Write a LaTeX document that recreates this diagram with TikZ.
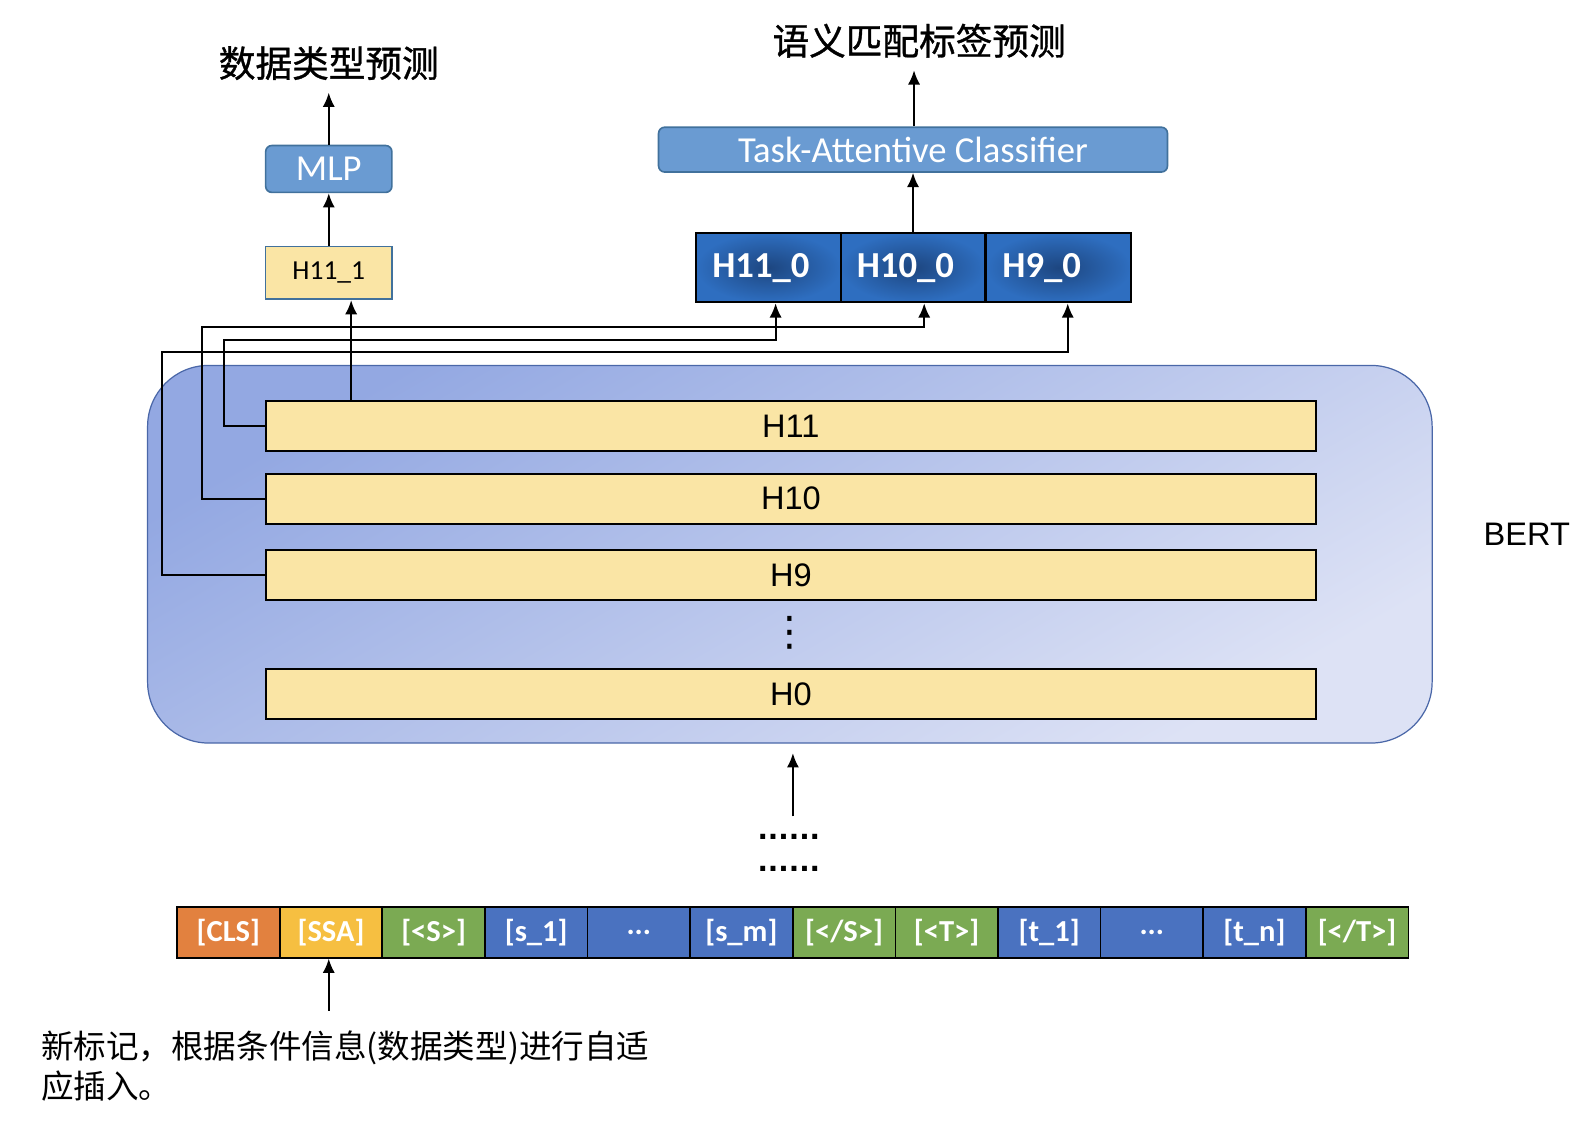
\documentclass[tikz,border=0pt]{standalone}
\usepackage{fontspec}
\setmainfont{Carlito}
\newfontfamily\arialfont{Liberation Sans}
\newfontfamily\cjkfont{Noto Sans CJK SC}
\newfontfamily\cjktitle[FakeBold=1]{Noto Sans CJK SC}
\newfontfamily\symfont{DejaVu Sans}
\usepackage{tikz}
\usetikzlibrary{arrows,arrows.meta}

\definecolor{mlpblue}{HTML}{6A9BD2}
\definecolor{mlpborder}{HTML}{41719C}
\definecolor{layeryellow}{HTML}{FAE5A5}
\definecolor{hdark}{HTML}{1D4680}
\definecolor{hlight}{HTML}{2E6EC0}
\definecolor{berttop}{HTML}{93A8E2}
\definecolor{bertbottom}{HTML}{DDE2F5}
\definecolor{bertborder}{HTML}{4A67A8}
\definecolor{tokorange}{HTML}{E2813F}
\definecolor{tokyellow}{HTML}{F6BF41}
\definecolor{tokgreen}{HTML}{7BAA53}
\definecolor{tokblue}{HTML}{4A72C0}

\newcommand{\tokdots}{...}

\begin{document}
\begin{tikzpicture}[x=0.5pt,y=-0.5pt]
	
	\tikzset{title/.style = {font=\cjktitle\fontsize{18}{20}\selectfont, inner sep=6pt}}
	\tikzset{head/.style = {draw=mlpborder, line width=0.8pt, fill=mlpblue, rounded corners=3pt, text=white, inner sep=0pt, font=\fontsize{18}{20}\selectfont}}
	\tikzset{layer/.style = {draw, line width=1pt, fill=layeryellow, minimum width=516pt, minimum height=24.5pt, inner sep=0pt, font=\arialfont\fontsize{16}{18}\selectfont}}
	\tikzset{hzero/.style = {draw, line width=1pt, inner color=hdark, outer color=hlight, minimum width=71.2pt, minimum height=34pt, inner xsep=8pt, inner ysep=0pt, text width=55.2pt, align=left, text=white, font=\bfseries\fontsize{18}{20}\selectfont}}
	\tikzset{token/.style = {draw, line width=0.8pt, minimum width=50.4pt, minimum height=25pt, inner sep=0pt, text=white, font=\bfseries\fontsize{15}{17}\selectfont}}
	\tikzset{edge/.style = {->,> = {Latex[length=7pt,width=6pt]}, line width=1pt}}
	
	\useasboundingbox (0,0) rectangle (1568,1114);
	
	% BERT block
	\node[draw=bertborder, line width=0.6pt, rounded corners=30pt, top color=berttop, bottom color=bertbottom, shading angle=30, minimum width=631pt, minimum height=185.5pt] (bert) at (776,544.5) {};
	\node[font=\arialfont\fontsize{16}{18}\selectfont] (bertlabel) at (1500,525) {BERT};
	
	\node[layer] (h11) at (777,418.5) {H11};
	\node[layer] (h10) at (777,490) {H10};
	\node[layer] (h9) at (777,565) {H9};
	\node[font=\symfont\fontsize{20}{22}\selectfont, inner sep=0pt] (vdots) at (776,622) {⋮};
	\node[layer] (h0) at (777,682) {H0};
	
	% left head
	\node[draw=mlpborder, line width=0.8pt, fill=layeryellow, minimum width=62pt, minimum height=26pt, inner sep=0pt, font=\fontsize{13.5}{15}\selectfont] (h111) at (323,268) {H11\_1};
	\node[head, minimum width=62pt, minimum height=23pt] (mlp) at (323,166) {MLP};
	\node[title] (dtitle) at (323,62) {数据类型预测};
	
	% right head
	\node[hzero] (h110) at (755,263) {H11\_0};
	\node[hzero] (h100) at (897,263) {H10\_0};
	\node[hzero] (h90) at (1040,263) {H9\_0};
	\node[head, minimum width=250pt, minimum height=22pt] (tac) at (897,147) {Task-Attentive Classifier};
	\node[title] (stitle) at (903,40) {语义匹配标签预测};
	
	\draw[edge] (h11.north -| 345,0) to (h111.south -| 345,0);
	\draw[edge] (h111) to (mlp);
	\draw[edge] (mlp) to (dtitle);
	\draw[edge] (h100.north -| 897,0) to (tac.south -| 897,0);
	\draw[edge] (tac.north -| 898,0) to (stitle.south -| 898,0);
	
	\draw[edge] (h11.west) -| (220,334) -| (762,0 |- h110.south);
	\draw[edge] (h10.west) -| (198,321) -| (908,0 |- h100.south);
	\draw[edge] (h9.west) -| (159,346) -| (1049,0 |- h90.south);
	
	% input tokens
	\foreach \i/\txt/\col in {1/{[CLS]}/tokorange, 2/{[SSA]}/tokyellow, 3/{[<S>]}/tokgreen, 4/{[s\_1]}/tokblue, 5/{\tokdots}/tokblue, 6/{[s\_m]}/tokblue, 7/{[</S>]}/tokgreen, 8/{[<T>]}/tokgreen, 9/{[t\_1]}/tokblue, 10/{\tokdots}/tokblue, 11/{[t\_n]}/tokblue, 12/{[</T>]}/tokgreen}
		\node[token, fill=\col] (t\i) at ({224.4+100.8*(\i-1)},916) {\txt};
	
	\node[font=\symfont\bfseries\fontsize{13.5}{15}\selectfont] (dots1) at (775,822) {......};
	\node[font=\symfont\bfseries\fontsize{13.5}{15}\selectfont] (dots2) at (775,854) {......};
	\coordinate (instart) at (779,802);
	\coordinate (inend) at (779,740);
	\draw[edge] (instart) to (inend);
	
	\node[anchor=north west, align=left, inner sep=0pt, font=\cjkfont\fontsize{16}{20}\selectfont] (note) at (40,1012) {新标记，根据条件信息(数据类型)进行自适\\应插入。};
	\coordinate (newtok) at (323,993);
	\draw[edge] (newtok) to (t2.south -| newtok);
	
\end{tikzpicture}
\end{document}
